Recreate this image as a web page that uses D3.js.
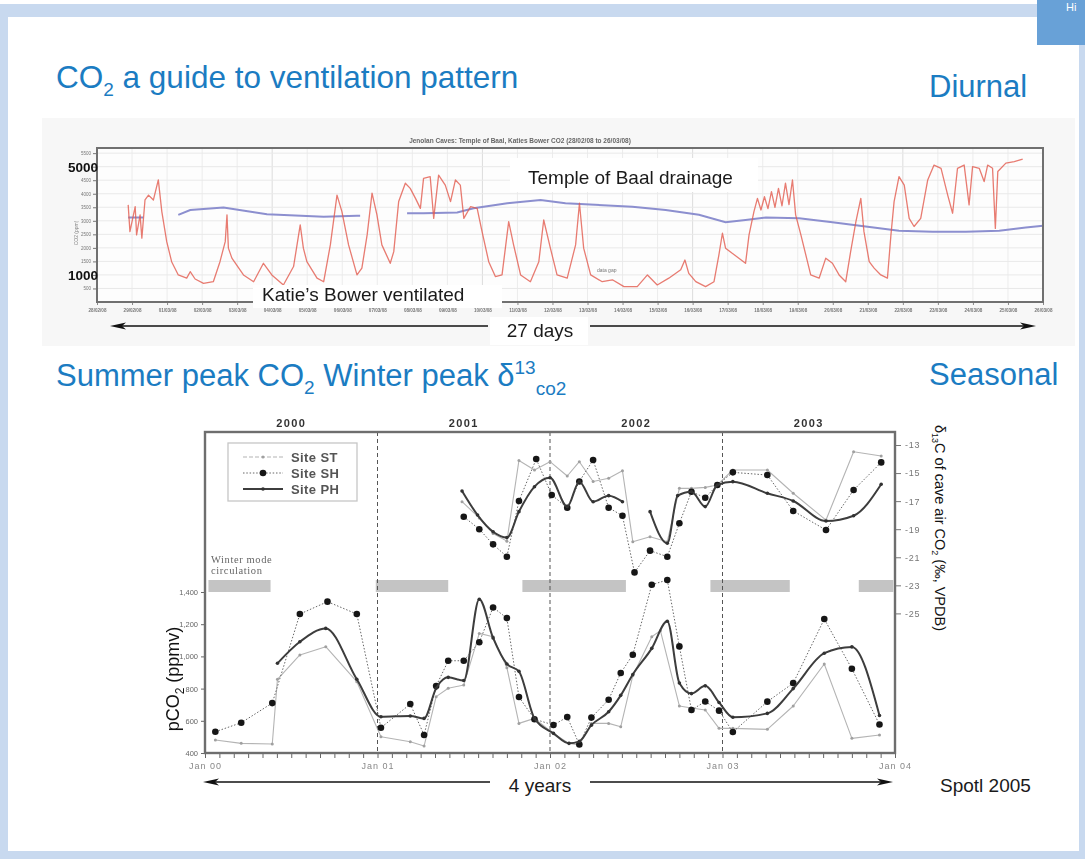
<!DOCTYPE html>
<html>
<head>
<meta charset="utf-8">
<script src="https://cdn.jsdelivr.net/npm/d3@7"></script>
<style>
  html, body { margin: 0; padding: 0; background: #fff; }
  svg { display: block; font-family: "Liberation Sans", Arial, sans-serif; }
</style>
</head>
<body>
<svg id="slide" width="1085" height="859"></svg>
<script>
// ---------------- Diurnal record: Jenolan Caves, 28 Feb – 26 Mar 2008 ----------------
const dayLabels = ["28/02/08","29/02/08","01/03/08","02/03/08","03/03/08","04/03/08","05/03/08",
  "06/03/08","07/03/08","08/03/08","09/03/08","10/03/08","11/03/08","12/03/08","13/03/08",
  "14/03/08","15/03/08","16/03/08","17/03/08","18/03/08","19/03/08","20/03/08","21/03/08",
  "22/03/08","23/03/08","24/03/08","25/03/08","26/03/08"];
const ppmTicks = [500,1000,1500,2000,2500,3000,3500,4000,4500,5000,5500];
const ppmBigLabels = [5000, 1000];

// Katie's Bower CO2 (ppm), day offset from start of record
const kbDay = [0.89,0.94,1.09,1.13,1.23,1.28,1.37,1.47,1.61,1.75,1.85,1.99,2.13,2.32,2.56,2.66,2.80,3.04,3.32,3.51,
  3.66,3.71,3.75,3.85,4.18,4.47,4.75,4.99,5.32,5.61,5.80,5.89,5.99,6.28,6.47,6.66,6.85,6.99,7.18,7.42,
  7.56,7.71,7.85,7.99,8.13,8.37,8.47,8.61,8.80,8.94,9.09,9.23,9.32,9.51,9.61,9.75,9.94,10.09,10.23,10.37,
  10.47,10.66,10.85,10.99,11.18,11.37,11.56,11.75,11.89,12.09,12.37,12.61,12.75,12.94,13.13,13.42,13.66,13.77,13.89,14.09,
  14.42,14.71,15.04,15.42,15.71,15.99,16.32,16.66,16.78,16.89,17.09,17.37,17.61,17.75,17.85,17.94,18.13,18.32,18.51,18.61,
  18.75,18.85,18.95,19.05,19.15,19.25,19.35,19.45,19.55,19.65,19.75,19.85,19.94,20.09,20.23,20.37,20.61,20.80,20.99,21.18,
  21.37,21.51,21.66,21.80,21.89,22.04,22.18,22.37,22.56,22.66,22.75,22.89,23.04,23.18,23.32,23.51,23.71,23.89,24.09,24.28,
  24.42,24.56,24.75,24.89,24.99,25.18,25.32,25.42,25.56,25.64,25.71,25.94,26.18,26.42];
const kbPpm = [3590,2600,3520,2480,3220,2360,3770,3950,3770,4510,3340,2230,1490,1000,880,1120,850,690,750,1490,
  2230,3220,1990,1620,1000,750,1430,1000,630,1310,2850,1990,1490,880,750,2110,3950,3340,2110,1000,
  1250,2480,4020,3220,2110,1430,1860,3710,4390,4200,3830,3460,4570,4630,3090,4690,4320,3710,4510,4320,
  3090,3520,3460,2600,1490,940,1000,2970,2110,1000,750,1490,3030,1990,1000,880,2110,3650,1990,1000,
  750,820,570,570,1000,630,880,1190,1550,1060,750,570,750,1740,2540,1990,1800,1620,1430,2480,
  3340,3830,3400,3890,3450,4080,3500,4200,3550,4390,3600,4510,3220,2480,1740,1000,880,1620,1430,1000,
  750,1860,2970,3830,2600,1490,1250,1000,880,2480,3710,4630,4320,3090,2790,3090,4510,5060,4940,3950,
  3280,4940,5060,3590,5000,4940,4450,5060,4940,2720,4820,5130,5190,5280];

// Temple of Baal CO2 (ppm); null marks a logging gap
const tbDay = [0.89,1.32,1.8,2.32,2.66,3.61,4.85,6.47,7.42,7.51,8.2,8.85,9.32,10.28,10.75,11.71,12.66,13.37,15.28,16.23,
  17.18,17.94,18.51,19.09,20.04,20.99,21.94,22.89,23.85,24.80,25.75,26.51,27.0];
const tbPpm = [3120,3120,null,3220,3400,3490,3240,3150,3190,3190,null,3280,3280,3310,3460,3650,3770,3650,3520,3400,
  3220,2950,3030,3120,3090,2950,2790,2630,2600,2600,2630,2750,2820];

// ---------------- Seasonal record 2000–2003 (Spötl 2005) ----------------
const yearLabels = ["2000","2001","2002","2003"];
const janLabels = ["Jan 00","Jan 01","Jan 02","Jan 03","Jan 04"];
const pco2Ticks = [400,600,800,1000,1200,1400];
const isoTicks = [-13,-15,-17,-19,-21,-23,-25];
const winterBands = [[2000.02,2000.38],[2000.99,2001.41],[2001.84,2002.44],[2002.93,2003.39],[2003.79,2003.99]];

// pCO2 (ppmv)
const stYear = [2000.06,2000.21,2000.39,2000.42,2000.55,2000.70,2000.88,2001.02,2001.19,2001.27,2001.34,2001.41,2001.50,
  2001.59,2001.67,2001.75,2001.82,2001.91,2002.02,2002.11,2002.17,2002.24,2002.34,2002.41,2002.48,2002.59,2002.64,
  2002.75,2002.82,2002.90,2002.98,2003.06,2003.26,2003.41,2003.59,2003.75,2003.91];
const stPco2 = [481,460,456,858,1009,1060,843,501,470,443,750,802,822,1143,1122,930,584,615,522,460,450,584,584,563,
  880,1122,1160,692,680,667,553,553,547,692,953,491,512];

const shYear = [2000.06,2000.21,2000.39,2000.55,2000.71,2000.88,2001.02,2001.19,2001.27,2001.34,2001.41,2001.50,2001.59,
  2001.67,2001.75,2001.82,2001.91,2002.02,2002.10,2002.17,2002.24,2002.34,2002.41,2002.48,2002.59,2002.68,2002.75,
  2002.82,2002.90,2002.98,2003.06,2003.26,2003.41,2003.59,2003.75,2003.91];
const shPco2 = [532,588,710,1263,1340,1263,557,704,512,816,973,973,1088,1304,1238,748,610,574,623,453,620,731,897,1010,
  1445,1475,1062,667,720,663,530,719,834,1232,923,577];

const phYear = [2000.42,2000.55,2000.70,2000.88,2001.02,2001.19,2001.27,2001.34,2001.41,2001.50,2001.59,2001.67,2001.75,
  2001.82,2001.91,2002.02,2002.11,2002.17,2002.24,2002.34,2002.41,2002.48,2002.59,2002.68,2002.75,2002.82,2002.90,
  2002.98,2003.06,2003.26,2003.41,2003.59,2003.75,2003.91];
const phPco2 = [957,1091,1174,858,625,630,615,802,870,850,1355,1115,953,907,615,522,460,472,573,656,758,888,1050,1218,
  835,769,817,714,622,646,800,1020,1059,633];

// δ13C of cave-air CO2 (‰ VPDB); null marks a missing sample
const stIsoYear = [2001.49,2001.59,2001.67,2001.75,2001.82,2001.91,2002.00,2002.10,2002.17,2002.25,2002.34,2002.42,2002.48,
  2002.58,2002.68,2002.75,2002.82,2002.90,2002.97,2003.06,2003.26,2003.41,2003.60,2003.76,2003.92];
const stIso = [-17.04,-18.2,-19.3,-19.85,-14.1,-14.78,-14.19,-15.21,-14.19,-15.6,-15.37,-14.83,-19.89,-19.54,-19.89,
  -16.09,-16.09,-16.02,-15.85,-14.78,-14.78,-16.44,-18.35,-13.48,-13.78];

const shIsoYear = [2001.50,2001.59,2001.67,2001.75,2001.82,2001.92,2002.01,2002.10,2002.17,2002.25,2002.34,2002.42,2002.49,
  2002.58,2002.68,2002.75,2002.82,2002.90,2002.97,2003.06,2003.26,2003.41,2003.60,2003.76,2003.92];
const shIso = [-18.11,-19.0,-20.08,-20.96,-16.99,-14.0,-16.56,-17.47,-15.6,-14.07,-17.47,-18.04,-22.08,-20.53,-20.96,
  -18.58,-16.33,-16.76,-15.85,-14.95,-15.14,-17.7,-19.06,-16.21,-14.24];

const phIsoYear = [2001.49,2001.58,2001.67,2001.75,2001.82,2001.91,2002.00,2002.10,2002.17,2002.25,2002.34,2002.42,2002.50,
  2002.58,2002.68,2002.74,2002.82,2002.90,2002.97,2003.06,2003.26,2003.41,2003.60,2003.76,2003.92];
const phIso = [-16.28,-17.99,-19.18,-19.6,-17.75,-15.97,-15.33,-17.39,-15.61,-17.04,-16.61,-17.04,null,-17.75,-20.0,
  -16.61,-16.33,-17.39,-15.85,-15.61,-16.44,-16.99,-18.42,-18.04,-15.8];

// ---------------- drawing ----------------
const svg = d3.select("#slide");
const TITLE_BLUE = "#1b7cc2";

const defs = svg.append("defs");
defs.append("filter").attr("id", "soft").attr("x", "-2%").attr("y", "-5%").attr("width", "104%").attr("height", "110%")
  .append("feGaussianBlur").attr("stdDeviation", 0.45);

// slide background and frame
svg.append("rect").attr("width", 1085).attr("height", 859).attr("fill", "#fff");
const frame = svg.append("g").attr("fill", "#c8d9ef");
frame.append("rect").attr("x", 0).attr("y", 4).attr("width", 1085).attr("height", 13);
frame.append("rect").attr("x", 0).attr("y", 4).attr("width", 8).attr("height", 855);
frame.append("rect").attr("x", 1079).attr("y", 4).attr("width", 6).attr("height", 855);
frame.append("rect").attr("x", 0).attr("y", 851).attr("width", 1085).attr("height", 8);
svg.append("rect").attr("x", 1037).attr("y", 0).attr("width", 48).attr("height", 45).attr("fill", "#68a1d7");
svg.append("text").attr("x", 1066).attr("y", 11).attr("font-size", 11).attr("fill", "#fff").text("Hi");

// headings
const h1 = svg.append("text").attr("x", 56).attr("y", 88).attr("font-size", 31.5).attr("fill", TITLE_BLUE);
h1.append("tspan").text("CO");
h1.append("tspan").attr("font-size", 19).attr("dy", 8).text("2");
h1.append("tspan").attr("dy", -8).text(" a guide to ventilation pattern");
svg.append("text").attr("x", 929).attr("y", 97).attr("font-size", 31).attr("fill", TITLE_BLUE).text("Diurnal");

const h2 = svg.append("text").attr("x", 56).attr("y", 386).attr("font-size", 31).attr("fill", TITLE_BLUE);
h2.append("tspan").text("Summer peak CO");
h2.append("tspan").attr("font-size", 19).attr("dy", 8).text("2");
h2.append("tspan").attr("dy", -8).text(" Winter peak δ");
h2.append("tspan").attr("font-size", 19).attr("dy", -12).text("13");
h2.append("tspan").attr("font-size", 19).attr("dy", 21).text("co2");
svg.append("text").attr("x", 929).attr("y", 385).attr("font-size", 31).attr("fill", TITLE_BLUE).text("Seasonal");

// ================= Diurnal chart =================
svg.append("rect").attr("x", 42).attr("y", 118).attr("width", 1033).attr("height", 228).attr("fill", "#f7f7f7");

const xDay = d3.scaleLinear().domain([0, 27]).range([97, 1043]);
const yPpm = d3.scaleLinear().domain([0, 5690]).range([302, 148]);

const gTop = svg.append("g").attr("filter", "url(#soft)");
gTop.append("rect").attr("x", 97).attr("y", 148).attr("width", 946).attr("height", 154).attr("fill", "#fdfdfd");

// grid
gTop.append("g").selectAll("line").data(d3.range(0, 28)).join("line")
  .attr("x1", d => xDay(d)).attr("x2", d => xDay(d)).attr("y1", 148).attr("y2", 302)
  .attr("stroke", d => d % 6 === 5 ? "#dcdcdc" : "#ececec").attr("stroke-width", 1);
gTop.append("g").selectAll("line").data(ppmTicks).join("line")
  .attr("x1", 97).attr("x2", 1043).attr("y1", d => yPpm(d)).attr("y2", d => yPpm(d))
  .attr("stroke", "#e9e9e9").attr("stroke-width", 1);

// axes
const axL = gTop.append("g").attr("transform", "translate(97,0)")
  .call(d3.axisLeft(yPpm).tickValues(ppmTicks).tickSize(4).tickPadding(2)
    .tickFormat(d => ppmBigLabels.includes(d) ? "" : d));
axL.select(".domain").remove();
axL.selectAll("line").attr("stroke", "#777");
axL.selectAll("text").attr("font-size", 4.5).attr("fill", "#777").attr("font-family", "Liberation Sans, Arial, sans-serif");

const axB = gTop.append("g").attr("transform", "translate(0,302)")
  .call(d3.axisBottom(xDay).tickValues(d3.range(0, 28)).tickSize(3).tickPadding(4)
    .tickFormat((d, i) => dayLabels[i]));
axB.select(".domain").remove();
axB.selectAll("line").attr("stroke", "#888");
axB.selectAll("text").attr("font-size", 4.6).attr("fill", "#777").attr("font-weight", "bold")
  .attr("font-family", "Liberation Sans, Arial, sans-serif");

gTop.append("text").attr("x", 520).attr("y", 143).attr("text-anchor", "middle")
  .attr("font-size", 6.5).attr("font-weight", "bold").attr("fill", "#666")
  .text("Jenolan Caves:  Temple of Baal, Katies Bower  CO2   (28/02/08 to 26/03/08)");
gTop.append("text").attr("transform", "translate(78,233) rotate(-90)").attr("text-anchor", "middle")
  .attr("font-size", 5).attr("fill", "#888").text("CO2 (ppm)");
gTop.append("text").attr("x", 597).attr("y", 272).attr("font-size", 5).attr("fill", "#777").text("data gap");

// series
const topLine = (days, vals) => d3.line()
  .defined((d, i) => vals[i] != null)
  .x((d, i) => xDay(days[i])).y((d, i) => yPpm(vals[i]))(days);

gTop.append("path").attr("d", topLine(tbDay, tbPpm)).attr("fill", "none")
  .attr("stroke", "#8c8fcf").attr("stroke-width", 2);
gTop.append("path").attr("d", topLine(kbDay, kbPpm)).attr("fill", "none")
  .attr("stroke", "#e25a4e").attr("stroke-width", 1.3).attr("stroke-opacity", 0.8)
  .attr("stroke-linejoin", "round");

gTop.append("rect").attr("x", 97).attr("y", 148).attr("width", 946).attr("height", 154)
  .attr("fill", "none").attr("stroke", "#707070").attr("stroke-width", 2);

// big y labels
ppmBigLabels.forEach(v => {
  svg.append("text").attr("x", 68).attr("y", yPpm(v) + 5).attr("font-size", 13.5).attr("font-weight", "bold")
    .attr("fill", "#111").text(v);
});

// annotation boxes
function labelBox(x, y, w, h, tx, ty, str) {
  svg.append("rect").attr("x", x).attr("y", y).attr("width", w).attr("height", h).attr("fill", "#fff");
  svg.append("text").attr("x", tx).attr("y", ty).attr("font-size", 19).attr("fill", "#1a1a1a").text(str);
}
labelBox(510, 158, 248, 34, 528, 184, "Temple of Baal drainage");
labelBox(253, 285, 249, 23, 262, 301, "Katie\u2019s Bower ventilated");

// span arrows
function spanArrow(x1, x2, y, gap0, gap1) {
  const g = svg.append("g");
  g.append("line").attr("x1", x1 + 10).attr("x2", gap0).attr("y1", y).attr("y2", y).attr("stroke", "#111").attr("stroke-width", 1.6);
  g.append("line").attr("x1", gap1).attr("x2", x2 - 10).attr("y1", y).attr("y2", y).attr("stroke", "#111").attr("stroke-width", 1.6);
  g.append("path").attr("d", `M${x1},${y} L${x1 + 16},${y - 3.5} L${x1 + 12},${y} L${x1 + 16},${y + 3.5} Z`).attr("fill", "#111");
  g.append("path").attr("d", `M${x2},${y} L${x2 - 16},${y - 3.5} L${x2 - 12},${y} L${x2 - 16},${y + 3.5} Z`).attr("fill", "#111");
}
spanArrow(110, 1036, 326, 488, 590);
svg.append("rect").attr("x", 490).attr("y", 317).attr("width", 98).attr("height", 28).attr("fill", "#fff");
svg.append("text").attr("x", 540).attr("y", 337).attr("text-anchor", "middle").attr("font-size", 19).attr("fill", "#1a1a1a").text("27 days");

// ================= Seasonal chart =================
const xYear = d3.scaleLinear().domain([2000, 2004]).range([205, 895]);
const yCO2 = d3.scaleLinear().domain([400, 1400]).range([753, 592]);
const yIso = d3.scaleLinear().domain([-13, -25]).range([445, 613.4]);

const gB = svg.append("g").attr("filter", "url(#soft)");

// winter-mode circulation bands
gB.append("g").selectAll("rect").data(winterBands).join("rect")
  .attr("x", d => xYear(d[0])).attr("width", d => xYear(d[1]) - xYear(d[0]))
  .attr("y", 580).attr("height", 12).attr("fill", "#c4c4c4");
const wm = gB.append("text").attr("x", 211).attr("y", 563).attr("font-size", 10.5)
  .attr("font-family", "Liberation Serif, Times New Roman, serif").attr("fill", "#666").attr("letter-spacing", 0.6);
wm.append("tspan").text("Winter mode");
wm.append("tspan").attr("x", 211).attr("dy", 11).text("circulation");

// year dividers
gB.append("g").selectAll("line").data([2001, 2002, 2003]).join("line")
  .attr("x1", d => xYear(d)).attr("x2", d => xYear(d)).attr("y1", 432).attr("y2", 753)
  .attr("stroke", "#555").attr("stroke-width", 1).attr("stroke-dasharray", "4,3");

// year labels on top
gB.append("g").selectAll("text").data(yearLabels).join("text")
  .attr("x", (d, i) => xYear(2000 + i + 0.5)).attr("y", 427).attr("text-anchor", "middle")
  .attr("font-size", 11).attr("font-weight", "bold").attr("letter-spacing", 1.4).attr("fill", "#333").text(d => d);

// axes
const axBL = gB.append("g").attr("transform", "translate(205,0)")
  .call(d3.axisLeft(yCO2).tickValues(pco2Ticks).tickSize(4).tickPadding(3));
axBL.select(".domain").remove();
axBL.selectAll("line").attr("stroke", "#666");
axBL.selectAll("text").attr("font-size", 7.5).attr("fill", "#666").attr("font-family", "Liberation Sans, Arial, sans-serif");

const axBR = gB.append("g").attr("transform", "translate(895,0)")
  .call(d3.axisRight(yIso).tickValues(isoTicks).tickSize(6).tickPadding(4).tickFormat(d => String(d)));
axBR.select(".domain").remove();
axBR.selectAll("line").attr("stroke", "#777");
axBR.selectAll("text").attr("font-size", 9).attr("fill", "#777").attr("letter-spacing", 0.8)
  .attr("font-family", "Liberation Sans, Arial, sans-serif");

const monthTicks = d3.range(0, 49).map(k => 2000 + k / 12);
const axBB = gB.append("g").attr("transform", "translate(0,753)")
  .call(d3.axisBottom(xYear).tickValues(monthTicks).tickSize(5).tickPadding(5)
    .tickFormat((d, i) => i % 12 === 0 ? janLabels[i / 12] : ""));
axBB.select(".domain").remove();
axBB.selectAll("line").attr("stroke", "#666");
axBB.selectAll("text").attr("font-size", 9).attr("fill", "#888").attr("letter-spacing", 1)
  .attr("font-family", "Liberation Sans, Arial, sans-serif");

// series
function drawSeries(g, xs, ys, yScale, o) {
  const pts = xs.map((x, i) => [x, ys[i]]);
  const line = d3.line().defined(d => d[1] != null)
    .x(d => xYear(d[0])).y(d => yScale(d[1])).curve(o.curve || d3.curveLinear);
  g.append("path").datum(pts).attr("d", line).attr("fill", "none")
    .attr("stroke", o.stroke).attr("stroke-width", o.width).attr("stroke-dasharray", o.dash || null)
    .attr("stroke-linejoin", "round");
  g.append("g").selectAll("circle").data(pts.filter(d => d[1] != null)).join("circle")
    .attr("cx", d => xYear(d[0])).attr("cy", d => yScale(d[1])).attr("r", o.r).attr("fill", o.fill);
}
const stStyle = { stroke: "#b4b4b4", width: 1.1, r: 1.5, fill: "#a0a0a0" };
const shStyle = { stroke: "#666", width: 1, dash: "1.5,1.8", r: 3.3, fill: "#161616" };
const phStyle = { stroke: "#3c3c3c", width: 2, r: 1.8, fill: "#333", curve: d3.curveMonotoneX };

drawSeries(gB, stYear, stPco2, yCO2, stStyle);
drawSeries(gB, stIsoYear, stIso, yIso, stStyle);
drawSeries(gB, shYear, shPco2, yCO2, shStyle);
drawSeries(gB, shIsoYear, shIso, yIso, shStyle);
drawSeries(gB, phYear, phPco2, yCO2, phStyle);
drawSeries(gB, phIsoYear, phIso, yIso, phStyle);

// plot frame
gB.append("rect").attr("x", 205).attr("y", 432).attr("width", 690).attr("height", 321)
  .attr("fill", "none").attr("stroke", "#6e6e6e").attr("stroke-width", 2.4);

// legend
const lg = gB.append("g");
lg.append("rect").attr("x", 228).attr("y", 443).attr("width", 129).attr("height", 58)
  .attr("fill", "#fff").attr("stroke", "#c6c6c6").attr("stroke-width", 1.3);
const legendRows = [["Site ST", stStyle], ["Site SH", shStyle], ["Site PH", phStyle]];
legendRows.forEach(([name, st], i) => {
  const y = 457 + i * 16;
  lg.append("line").attr("x1", 243).attr("x2", 283).attr("y1", y).attr("y2", y)
    .attr("stroke", st.stroke).attr("stroke-width", st.width).attr("stroke-dasharray", st.dash || (i === 0 ? "4,2" : null));
  lg.append("circle").attr("cx", 263).attr("cy", y).attr("r", st.r).attr("fill", st.fill);
  lg.append("text").attr("x", 291).attr("y", y + 4.5).attr("font-size", 13).attr("font-weight", "bold")
    .attr("fill", "#555").attr("letter-spacing", 0.4).text(name);
});

// axis titles
const lt = svg.append("text").attr("transform", "translate(179,679) rotate(-90)").attr("text-anchor", "middle")
  .attr("font-size", 18).attr("fill", "#111");
lt.append("tspan").text("pCO");
lt.append("tspan").attr("font-size", 12).attr("dy", 5).text("2");
lt.append("tspan").attr("dy", -5).text(" (ppmv)");

const rt = svg.append("text").attr("transform", "translate(935,425) rotate(90)")
  .attr("font-size", 14.5).attr("fill", "#111");
rt.append("tspan").text("δ");
rt.append("tspan").attr("font-size", 9).attr("dy", 3).text("13");
rt.append("tspan").attr("dy", -3).text("C of cave air CO");
rt.append("tspan").attr("font-size", 9).attr("dy", 3).text("2");
rt.append("tspan").attr("dy", -3).text(" (‰, VPDB)");

// span arrow and citation
spanArrow(203, 893, 782, 490, 590);
svg.append("text").attr("x", 540).attr("y", 792).attr("text-anchor", "middle").attr("font-size", 19).attr("fill", "#1a1a1a").text("4 years");
svg.append("text").attr("x", 940).attr("y", 792).attr("font-size", 19).attr("fill", "#1a1a1a").text("Spotl 2005");
</script>
</body>
</html>
